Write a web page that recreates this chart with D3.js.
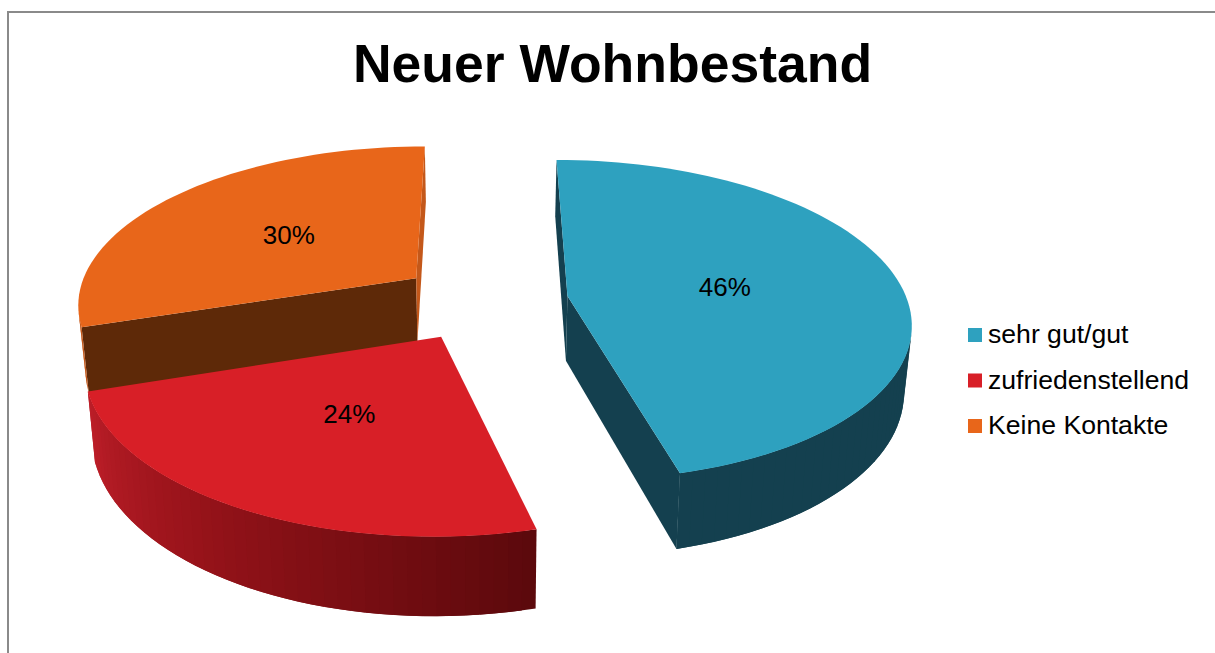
<!DOCTYPE html>
<html>
<head>
<meta charset="utf-8">
<script src="https://cdn.jsdelivr.net/npm/d3@7"></script>
<style>
  html, body { margin: 0; padding: 0; background: #fff; }
  svg { display: block; font-family: "Liberation Sans", Arial, sans-serif; }
</style>
</head>
<body>
<div id="chart"></div>
<script>
const title = 'Neuer Wohnbestand';
const categories = ['sehr gut/gut', 'zufriedenstellend', 'Keine Kontakte'];
const values = [46, 24, 30];

const width = 1215;
const height = 653;

const topColor = d3.scaleOrdinal(categories, ['#2ea1bf', '#d81f27', '#e8661a']);
// colour of the wall on each side of a slice
const startWall = d3.scaleOrdinal(categories, ['#14404f', '#8a1016', '#5e2908']);
const endWall = d3.scaleOrdinal(categories, ['#14404f', '#5e0a0d', '#c4581a']);
const outerWall = {
  'sehr gut/gut': d3.scaleLinear([0, 0.12, 1], ['#1a4a5b', '#14404f', '#14404f']),
  'zufriedenstellend': d3.scaleLinear([0, 0.3, 0.6, 1], ['#5c090c', '#7a0e13', '#98131a', '#bc1e28']),
  'Keine Kontakte': d3.scaleLinear([0, 1], ['#c4581a', '#c4581a'])
};

// perspective of the pie plane
const cx = 483.5, cy = 301, rx = 340, ry = 158, persp = 0.15;
const explode = 0.25, thickness = 65, converge = 0.018;
// how far from the slice tip each percent label sits
const labelRadius = d3.scaleOrdinal(categories, [0.475, 0.49, 0.505]);

function project(u, v) {
  const s = 1 / (1 - persp * v);
  return [cx + rx * u * s, cy + ry * v * s, s];
}
function drop(p) {
  return [p[0] + (cx - p[0]) * converge, p[1] + thickness * p[2]];
}
const flat = pts => pts.map(p => [p[0], p[1]]);

const svg = d3.select('#chart').append('svg')
  .attr('width', width)
  .attr('height', height);

svg.append('path')
  .attr('d', `M 8 ${height} V 12 H ${width}`)
  .attr('fill', 'none')
  .attr('stroke', '#8a8a8a')
  .attr('stroke-width', 2);

svg.append('text')
  .attr('x', 612.5)
  .attr('y', 82)
  .attr('text-anchor', 'middle')
  .attr('font-size', 53.5)
  .attr('font-weight', 'bold')
  .attr('fill', '#000')
  .text(title);

const pie = d3.pie().sort(null).value(d => d.value);
const arcs = pie(categories.map((name, i) => ({ name, value: values[i] })));

const line = d3.line();
const g = svg.append('g');

// back slices first, red one sits in front of the orange wall
const drawOrder = [2, 0, 1];

drawOrder.forEach(i => {
  const d = arcs[i];
  const name = d.data.name;
  const mid = (d.startAngle + d.endAngle) / 2;
  const ax = explode * Math.sin(mid);
  const av = -explode * Math.cos(mid);
  const apex = project(ax, av);
  const steps = Math.round((d.endAngle - d.startAngle) / 0.035);
  const angle = d3.scaleLinear([0, steps], [d.startAngle, d.endAngle]);
  const rim = d3.range(steps + 1).map(k => {
    const a = angle(k);
    return project(ax + Math.sin(a), av - Math.cos(a));
  });
  const slice = g.append('g').attr('class', 'slice');

  // radial walls, dropped when they face away
  const walls = [
    { pts: [apex, rim[0], drop(rim[0]), drop(apex)], color: startWall(name) },
    { pts: [rim[steps], apex, drop(apex), drop(rim[steps])], color: endWall(name) }
  ];
  walls.forEach(w => {
    if (d3.polygonArea(flat(w.pts)) > 0) {
      slice.append('path')
        .attr('d', line(flat(w.pts)) + 'Z')
        .attr('fill', w.color);
    }
  });

  // outer wall as thin bands, each one runs under the next to hide seams
  const wallColor = outerWall[name];
  rim.slice(0, -1).forEach((p, k) => {
    const q = rim[k + 1];
    const face = flat([p, q, drop(q), drop(p)]);
    if (d3.polygonArea(face) > 0) {
      const far = rim[Math.min(k + 2, steps)];
      slice.append('path')
        .attr('d', line(flat([p, far, drop(far), drop(p)])) + 'Z')
        .attr('fill', wallColor(k / (steps - 1)));
    }
  });

  // top face
  slice.append('path')
    .attr('d', line(flat([apex, ...rim])) + 'Z')
    .attr('fill', topColor(name));
});

// percent labels sit on the top faces
svg.append('g').selectAll('text')
  .data(arcs)
  .join('text')
  .attr('font-size', 26)
  .attr('text-anchor', 'middle')
  .attr('fill', '#000')
  .attr('transform', d => {
    const mid = (d.startAngle + d.endAngle) / 2;
    const r = explode + labelRadius(d.data.name);
    const p = project(r * Math.sin(mid), -r * Math.cos(mid));
    return `translate(${p[0]},${p[1] + 9})`;
  })
  .text(d => `${d.value}%`);

const legendY = d3.scalePoint(categories, [335, 426]);
const legend = svg.append('g').selectAll('g')
  .data(categories)
  .join('g')
  .attr('transform', d => `translate(968,${legendY(d)})`);
legend.append('rect')
  .attr('y', -7)
  .attr('width', 14)
  .attr('height', 14)
  .attr('fill', d => topColor(d));
legend.append('text')
  .attr('x', 20)
  .attr('y', 8)
  .attr('font-size', 26.6)
  .attr('fill', '#000')
  .text(d => d);
</script>
</body>
</html>
